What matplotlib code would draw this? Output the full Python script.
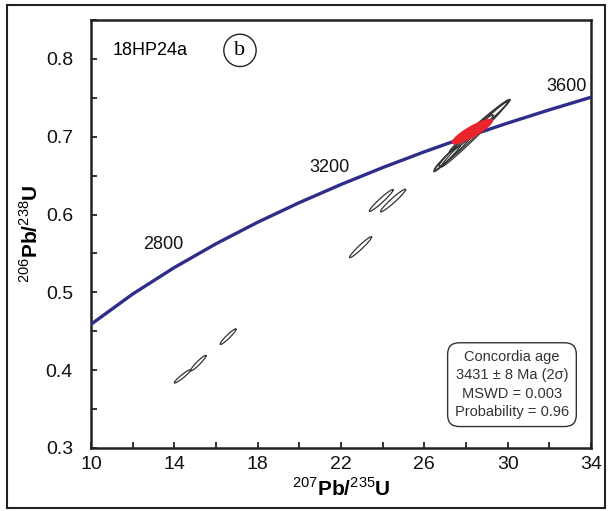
import matplotlib as mpl
mpl.use('Agg')
import matplotlib.pyplot as plt
import numpy as np
from matplotlib.patches import Rectangle

# concordia curve (207Pb/235U, 206Pb/238U)
curve_x = [10, 12, 14, 16, 18, 20, 22, 24, 26, 28, 30, 32, 34]
curve_y = [0.4589, 0.4978, 0.5319, 0.5624, 0.5901, 0.6153, 0.6386,
           0.6603, 0.6806, 0.6996, 0.7175, 0.7345, 0.7507]

# age labels on the curve
age_text = ['2800', '3200', '3600']
age_x = [13.45, 21.45, 32.85]
age_y = [0.562, 0.661, 0.765]

# analyses: centre, half extent in x and y, correlation
ell_x = [14.39, 15.15, 16.58, 22.94, 23.93, 24.50, 27.1, 27.5, 28.0, 28.4, 28.65, 28.95]
ell_y = [0.392, 0.409, 0.443, 0.558, 0.618, 0.618, 0.673, 0.683, 0.695, 0.703, 0.714, 0.720]
ell_ax = [0.39, 0.37, 0.38, 0.53, 0.57, 0.60, 0.62, 1.05, 1.3, 1.6, 1.45, 1.15]
ell_ay = [0.0085, 0.010, 0.010, 0.0135, 0.014, 0.0145, 0.016, 0.028, 0.033, 0.042, 0.034, 0.027]
ell_rho = [0.95, 0.95, 0.95, 0.965, 0.965, 0.965, 0.97, 0.985, 0.985, 0.99, 0.988, 0.985]

# concordia age ellipse
conc_x, conc_y = 28.3, 0.7066
conc_ax, conc_ay, conc_rho = 1.0, 0.0165, 0.86

stats = "Concordia age\n3431 \u00b1 8 Ma (2\u03c3)\nMSWD = 0.003\nProbability = 0.96"


def ellipse(x0, y0, ax_, ay_, rho, n=120):
    t = np.linspace(0, 2 * np.pi, n)
    xs = x0 + ax_ * np.cos(t)
    ys = y0 + ay_ * (rho * np.cos(t) + np.sqrt(1 - rho ** 2) * np.sin(t))
    return xs, ys


plt.rcParams.update({'font.family': 'Liberation Sans', 'mathtext.fontset': 'custom',
                     'mathtext.rm': 'Liberation Sans', 'mathtext.bf': 'Liberation Sans:bold'})

fig = plt.figure(figsize=(6.09, 5.11), dpi=100)
fig.patches.append(Rectangle((0.012, 0.006), 0.982, 0.985, transform=fig.transFigure,
                             fill=False, lw=1.5, ec='#222222'))
ax = fig.add_axes([0.1494, 0.1233, 0.821, 0.8376])

ax.plot(curve_x, curve_y, color='#2e2d8a', lw=2.4, zorder=3)
for s, x, y in zip(age_text, age_x, age_y):
    ax.text(x, y, s, fontsize=13, ha='center', va='center', color='#111111')

for i in range(len(ell_x)):
    xs, ys = ellipse(ell_x[i], ell_y[i], ell_ax[i], ell_ay[i], ell_rho[i])
    ax.plot(xs, ys, color='#333333', lw=0.9, zorder=4)

xs, ys = ellipse(conc_x, conc_y, conc_ax, conc_ay, conc_rho)
ax.fill(xs, ys, color='#e8242c', zorder=5, lw=0)

ax.set_xlim(10, 34)
ax.set_ylim(0.3, 0.85)
ax.set_xticks(np.arange(10, 35, 4))
ax.set_xticks(np.arange(10, 35, 2), minor=True)
ax.set_yticks([0.3, 0.4, 0.5, 0.6, 0.7, 0.8])
ax.set_yticks(np.arange(0.3, 0.851, 0.05), minor=True)
ax.set_yticklabels(['0.3', '0.4', '0.5', '0.6', '0.7', '0.8'])
ax.tick_params(which='both', direction='in', length=4, width=1.2, labelsize=14,
               top=False, right=False, colors='#111111')
ax.tick_params(axis='y', which='major', pad=13)
ax.tick_params(axis='x', which='major', pad=6)
for sp in ax.spines.values():
    sp.set_linewidth(1.8)
    sp.set_color('#222222')

ax.set_xlabel(r'$^{207}$Pb/$^{235}$U', fontsize=15, fontweight='bold', labelpad=3)
ax.set_ylabel(r'$^{206}$Pb/$^{238}$U', fontsize=15, fontweight='bold', labelpad=3)

ax.text(0.043, 0.929, '18HP24a', transform=ax.transAxes, fontsize=13, va='center')
ax.text(0.298, 0.929, 'b', transform=ax.transAxes, fontsize=16, va='center', ha='center',
        family='Liberation Serif',
        bbox=dict(boxstyle='circle,pad=0.3', fc='white', ec='#222222', lw=1.0))

ax.text(0.842, 0.148, stats, transform=ax.transAxes, fontsize=10.5, ha='center', va='center',
        color='#333333', linespacing=1.4,
        bbox=dict(boxstyle='round,pad=0.5,rounding_size=0.8', fc='white', ec='#333333', lw=1.0))

plt.savefig('out.png', dpi=100)
